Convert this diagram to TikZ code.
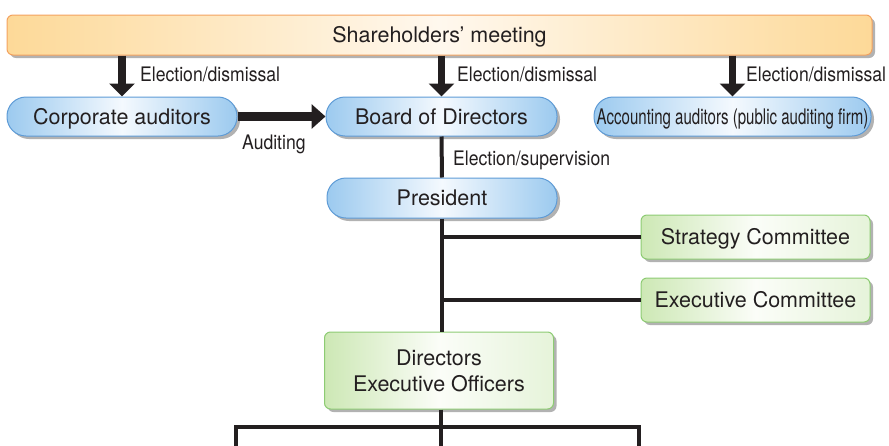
\documentclass[tikz,border=0pt]{standalone}
\usepackage{fontspec}
\setmainfont{TeX Gyre Heros}
\newfontfamily\condfont[FakeStretch=0.88]{TeX Gyre Heros}
\newfontfamily\xcondfont[FakeStretch=0.70]{TeX Gyre Heros}
\usetikzlibrary{arrows.meta,shadows,calc}
\definecolor{orborder}{HTML}{F3A25F}
\definecolor{orfill}{HTML}{FDD998}
\definecolor{orlight}{HTML}{FFF8EE}
\definecolor{blborder}{HTML}{5E9BD6}
\definecolor{blfill}{HTML}{9CCAEF}
\definecolor{bllight}{HTML}{F4F9FE}
\definecolor{grborder}{HTML}{8DCB73}
\definecolor{grfill}{HTML}{CDE8B5}
\definecolor{grlight}{HTML}{FBFDF8}
\definecolor{txt}{HTML}{231F20}
\begin{document}
\begin{tikzpicture}[x=1pt,y=-1pt,
  shadowed/.style={drop shadow={shadow xshift=3pt,shadow yshift=-3pt,fill=black,opacity=0.3}},
  boxfont/.style={font=\fontsize{21.5}{26}\selectfont, text=txt},
  oneline/.style={text height=15.5pt, text depth=0pt},
  barbox/.style={draw=orborder, line width=1pt, rounded corners=6pt, inner sep=0pt,
    left color=orfill, right color=orfill, middle color=orlight, shadowed, boxfont, oneline},
  pill/.style={draw=blborder, line width=1pt, rounded corners=19pt, inner sep=0pt,
    minimum height=39pt, left color=blfill, right color=blfill, middle color=bllight,
    shadowed, boxfont, oneline},
  greenbox/.style={draw=grborder, line width=1pt, rounded corners=6pt, inner sep=0pt,
    left color=grfill, right color=grfill!50, middle color=grlight, shadowed, boxfont},
  lab/.style={font=\condfont\fontsize{20}{24}\selectfont, text=txt, inner sep=0pt, anchor=base west},
  bigarrow/.style={line width=7.5pt, color=txt, -{Triangle[width=25pt,length=13pt]}},
  conn/.style={line width=4pt, color=txt},
]
\useasboundingbox (0,0) rectangle (889,445);

\node[barbox, minimum width=865pt, minimum height=40pt] (share) at (439.5,35) {Shareholders’ meeting};

\node[pill, minimum width=230pt] (corp) at (122,116.5) {Corporate auditors};
\node[pill, minimum width=231pt] (board) at (441.5,116.5) {Board of Directors};
\node[pill, minimum width=277pt] (acc) at (732.5,116.5) {\xcondfont Accounting auditors (public auditing firm)};
\node[pill, minimum width=230pt, minimum height=40pt] (pres) at (442,198) {President};

\node[greenbox, oneline, minimum width=229pt, minimum height=44pt] (strat) at (755.5,237) {Strategy Committee};
\node[greenbox, oneline, minimum width=229pt, minimum height=44pt] (exec) at (755.5,300) {Executive Committee};
\node[greenbox, align=center, minimum width=229pt, minimum height=77pt] (dir) at (439,370.5) {Directors\\Executive Officers};

% arrows from shareholders
\draw[bigarrow] (corp.north |- share.south) -- (corp.north);
\draw[bigarrow] (board.north |- share.south) -- (board.north);
\draw[bigarrow] (acc.north |- share.south) -- (acc.north);
\node[lab] (l1) at (140,81) {Election/dismissal};
\node[lab] (l2) at (457,81) {Election/dismissal};
\node[lab] (l3) at (746,81) {Election/dismissal};

% auditing
\draw[line width=8.5pt, color=txt, -{Triangle[width=24pt,length=14pt]}] (corp.east) -- (board.west);
\node[lab] (laud) at (242,149.5) {Auditing};

% spine
\draw[conn] (board.south) -- (pres.north);
\node[lab] (lsup) at (453,165) {Election/supervision};
\coordinate (spinetop) at (pres.south);
\draw[conn] (pres.south) -- (pres.south |- dir.north);
\draw[conn] (strat.west) -- (strat.west -| spinetop);
\draw[conn] (exec.west) -- (exec.west -| spinetop);

% bottom
\coordinate (bl) at (236,427);
\coordinate (br) at (639,427);
\coordinate (bbl) at (236,449);
\coordinate (bbr) at (639,449);
\coordinate (bbm) at (441,449);
\draw[conn] (dir.south -| bbm) -- (bbm);
\draw[conn] (bbl) -- (bl) -- (br) -- (bbr);
\end{tikzpicture}
\end{document}
